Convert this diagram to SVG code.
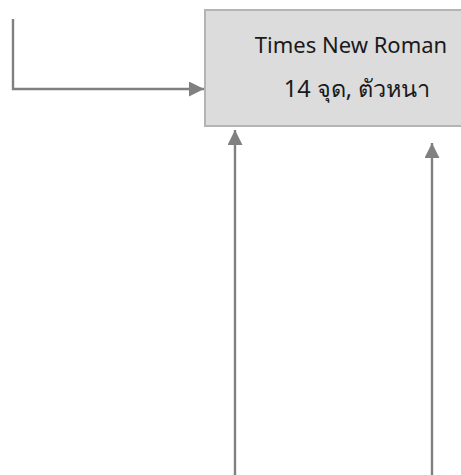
<svg xmlns="http://www.w3.org/2000/svg" width="461" height="475" viewBox="0 0 461 475">
<defs>
<marker id="ah" markerWidth="15" markerHeight="15" viewBox="0 0 15 15" refX="15" refY="7.5" orient="auto" markerUnits="userSpaceOnUse">
<path d="M0,0 L15,7.5 L0,15 Z" fill="#808080"/>
</marker>
</defs>
<style>
.conn{fill:none;stroke:#808080;stroke-width:2.4}
.box{fill:#dcdcdc;stroke:#b4b4b4;stroke-width:2}
.lbl{font-family:"Noto Sans","DejaVu Sans",sans-serif;font-size:22px;fill:#1a1a1a;text-anchor:middle}
.th{font-size:23.5px}
</style>
<g id="node-box">
<rect class="box" x="205" y="10" width="262" height="116"/>
<text class="lbl" x="351" y="53">Times New Roman</text>
<text class="lbl th" x="357" y="97">14 จุด, ตัวหนา</text>
</g>
<g id="connectors">
<path class="conn" d="M13,19 V89 H204" marker-end="url(#ah)"/>
<path class="conn" d="M235,475 V130" marker-end="url(#ah)"/>
<path class="conn" d="M432,475 V143" marker-end="url(#ah)"/>
</g>
</svg>
